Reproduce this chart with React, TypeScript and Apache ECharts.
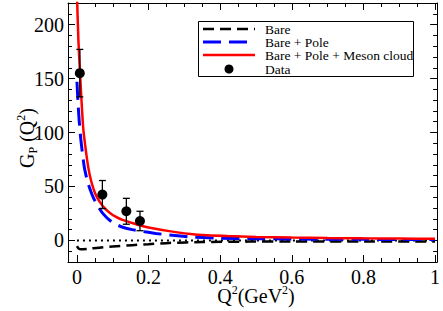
import React, { useEffect, useRef } from "react";
import * as echarts from "echarts";

// Curves (Q^2 in GeV^2, G_P dimensionless)
const bareQ = [0, 0.005, 0.011, 0.03, 0.062, 0.1, 0.154, 0.2, 0.258, 0.35, 0.48, 0.6, 0.8, 1.0];
const bareG = [-5.2, -7.6, -8.3, -7.8, -6.7, -5.6, -4.4, -3.5, -2.3, -1.5, -1.1, -1.0, -0.9, -0.9];

const poleQ = [0, 0.003, 0.006, 0.011, 0.02, 0.027, 0.034, 0.041, 0.048, 0.06, 0.071, 0.09, 0.108, 0.13, 0.154, 0.179, 0.22, 0.258, 0.32, 0.387, 0.5, 0.6, 0.8, 1.0];
const poleG = [147, 128, 112, 93, 69, 58, 50, 43.5, 38, 31, 25.5, 19, 15, 12, 10, 8.5, 6.5, 5, 3.2, 2.2, 1.6, 1.3, 1.0, 0.8];

const mesonQ = [0, 0.004, 0.009, 0.0175, 0.025, 0.032, 0.039, 0.046, 0.053, 0.065, 0.08, 0.094, 0.108, 0.127, 0.147, 0.175, 0.2, 0.258, 0.33, 0.42, 0.5, 0.6, 0.7, 0.8, 0.9, 1.0];
const mesonG = [228, 186, 152, 104, 83, 67, 56, 48, 42, 35, 29, 25, 22, 19, 17, 14, 12, 8.6, 5.5, 4, 3.2, 2.6, 2.2, 1.9, 1.7, 1.5];

const zeroQ = [0, 1];
const zeroG = [0, 0];

const dataQ = [0.008, 0.071, 0.138, 0.176];
const dataG = [155, 42.5, 27, 18];
const dataErr = [22, 13, 12, 9];

const xMajor = [0, 0.2, 0.4, 0.6, 0.8, 1];
const xMinor = [0.05, 0.1, 0.15, 0.25, 0.3, 0.35, 0.45, 0.5, 0.55, 0.65, 0.7, 0.75, 0.85, 0.9, 0.95];
const yMajor = [0, 50, 100, 150, 200];
const yMinor = [-10, 10, 20, 30, 40, 60, 70, 80, 90, 110, 120, 130, 140, 160, 170, 180, 190, 210];

const legendNames = ["Bare", "Bare + Pole", "Bare + Pole + Meson cloud", "Data"];

const FONT = "Liberation Serif";

const zip = (a: number[], b: number[]) => a.map((v, i) => [v, b[i]]);

export default function App() {
  const ref = useRef<HTMLDivElement>(null);
  useEffect(() => {
    if (!ref.current) return;
    document.body.style.margin = "0";
    const chart = echarts.init(ref.current, undefined, { renderer: "svg" });
    const X_MIN = -0.025;
    const X_MAX = 1.006;
    const Y_MIN = -20;
    const Y_MAX = 220;
    const mkX = (pos: string, vals: number[], len: number, line: boolean, labels: boolean) => ({
      type: "value",
      position: pos,
      min: X_MIN,
      max: X_MAX,
      splitLine: { show: false },
      axisLine: { show: line, onZero: false, lineStyle: { color: "#000", width: 1 } },
      axisTick: { show: true, inside: true, length: len, customValues: vals, lineStyle: { color: "#000", width: 1 } },
      axisLabel: labels
        ? { show: true, customValues: vals, color: "#000", fontSize: 20, fontFamily: FONT, margin: 5, formatter: (v: number) => String(v) }
        : { show: false },
    });
    const mkY = (pos: string, vals: number[], len: number, line: boolean, labels: boolean) => ({
      type: "value",
      position: pos,
      min: Y_MIN,
      max: Y_MAX,
      splitLine: { show: false },
      axisLine: { show: line, onZero: false, lineStyle: { color: "#000", width: 1 } },
      axisTick: { show: true, inside: true, length: len, customValues: vals, lineStyle: { color: "#000", width: 1 } },
      axisLabel: labels
        ? { show: true, customValues: vals, color: "#000", fontSize: 20, fontFamily: FONT, margin: 4, formatter: (v: number) => String(v) }
        : { show: false },
    });

    const lx = 203, lx2 = 255, ly = [29, 42, 55, 69];

    chart.setOption({
      animation: false,
      backgroundColor: "#fff",
      textStyle: { fontFamily: FONT },
      grid: { left: 68, right: 3, top: 3, bottom: 49, containLabel: false },
      xAxis: [
        mkX("bottom", xMajor, 7, true, true),
        mkX("bottom", xMinor, 4, false, false),
        mkX("top", xMajor, 7, true, false),
        mkX("top", xMinor, 4, false, false),
      ],
      yAxis: [
        mkY("left", yMajor, 7, true, true),
        mkY("left", yMinor, 4, false, false),
        mkY("right", yMajor, 7, true, false),
        mkY("right", yMinor, 4, false, false),
      ],
      series: [
        {
          name: "zero",
          type: "line",
          data: zip(zeroQ, zeroG),
          symbol: "none",
          lineStyle: { color: "#000", width: 2, type: [2, 4] },
          z: 2,
        },
        {
          name: legendNames[0],
          type: "line",
          data: zip(bareQ, bareG),
          symbol: "none",
          smooth: 0.2,
          lineStyle: { color: "#000", width: 2.5, type: [11, 6] },
          z: 3,
        },
        {
          name: legendNames[1],
          type: "line",
          data: zip(poleQ, poleG),
          symbol: "none",
          smooth: 0.2,
          lineStyle: { color: "#0000ff", width: 3, type: [18, 8] },
          z: 4,
        },
        {
          name: legendNames[2],
          type: "line",
          data: zip(mesonQ, mesonG),
          symbol: "none",
          smooth: 0.2,
          lineStyle: { color: "#ff0000", width: 2.5 },
          z: 5,
        },
        {
          name: "errors",
          type: "custom",
          data: dataQ.map((q, i) => [q, dataG[i], dataErr[i]]),
          encode: { x: 0, y: 1 },
          z: 6,
          renderItem: (params: any, api: any) => {
            const x = api.value(0);
            const y = api.value(1);
            const e = api.value(2);
            const top = api.coord([x, y + e]);
            const bot = api.coord([x, y - e]);
            const hw = 3.5;
            const st = { stroke: "#000", lineWidth: 1.3 };
            return {
              type: "group",
              children: [
                { type: "line", shape: { x1: top[0], y1: top[1], x2: bot[0], y2: bot[1] }, style: st },
                { type: "line", shape: { x1: top[0] - hw, y1: top[1], x2: top[0] + hw, y2: top[1] }, style: st },
                { type: "line", shape: { x1: bot[0] - hw, y1: bot[1], x2: bot[0] + hw, y2: bot[1] }, style: st },
              ],
            };
          },
        },
        {
          name: legendNames[3],
          type: "scatter",
          data: zip(dataQ, dataG),
          symbol: "circle",
          symbolSize: 10,
          itemStyle: { color: "#000", opacity: 1 },
          z: 7,
        },
      ],
      graphic: [
        {
          type: "rect",
          shape: { x: 198.5, y: 21.5, width: 215, height: 55 },
          style: { fill: "#fff", stroke: "#000", lineWidth: 1 },
          z: 100,
        },
        { type: "line", shape: { x1: lx, y1: ly[0], x2: lx2, y2: ly[0] }, style: { stroke: "#000", lineWidth: 2.5, lineDash: [11, 6] }, z: 101 },
        { type: "line", shape: { x1: lx, y1: ly[1], x2: lx2, y2: ly[1] }, style: { stroke: "#0000ff", lineWidth: 3, lineDash: [18, 8] }, z: 101 },
        { type: "line", shape: { x1: lx, y1: ly[2], x2: lx2, y2: ly[2] }, style: { stroke: "#ff0000", lineWidth: 2.5 }, z: 101 },
        { type: "circle", shape: { cx: 229, cy: ly[3], r: 4.5 }, style: { fill: "#000" }, z: 101 },
        ...legendNames.map((n, i) => ({
          type: "text",
          x: 265,
          y: ly[i],
          z: 101,
          style: { text: n, fill: "#000", fontSize: 13.5, fontFamily: FONT, align: "left", verticalAlign: "middle" },
        })),
        {
          type: "text",
          x: 27,
          y: 138,
          rotation: Math.PI / 2,
          style: {
            text: "{g|G}{s|P}{g| (Q}{u|2}{g|)}",
            align: "center",
            verticalAlign: "middle",
            fill: "#000",
            fontFamily: FONT,
            rich: {
              g: { fontSize: 20, fontFamily: FONT, lineHeight: 24, fill: "#000" },
              s: { fontSize: 12, fontFamily: FONT, verticalAlign: "bottom", lineHeight: 12, fill: "#000" },
              u: { fontSize: 12, fontFamily: FONT, verticalAlign: "top", lineHeight: 12, fill: "#000" },
            },
          },
        },
        {
          type: "text",
          x: 256,
          y: 296,
          style: {
            text: "{g|Q}{u|2}{g|(GeV}{u|2}{g|)}",
            align: "center",
            verticalAlign: "middle",
            fill: "#000",
            fontFamily: FONT,
            rich: {
              g: { fontSize: 20, fontFamily: FONT, lineHeight: 24, fill: "#000" },
              u: { fontSize: 12, fontFamily: FONT, verticalAlign: "top", lineHeight: 12, fill: "#000" },
            },
          },
        },
      ],
    });
    return () => chart.dispose();
  }, []);
  return <div ref={ref} style={{ width: 443, height: 311 }} />;
}
